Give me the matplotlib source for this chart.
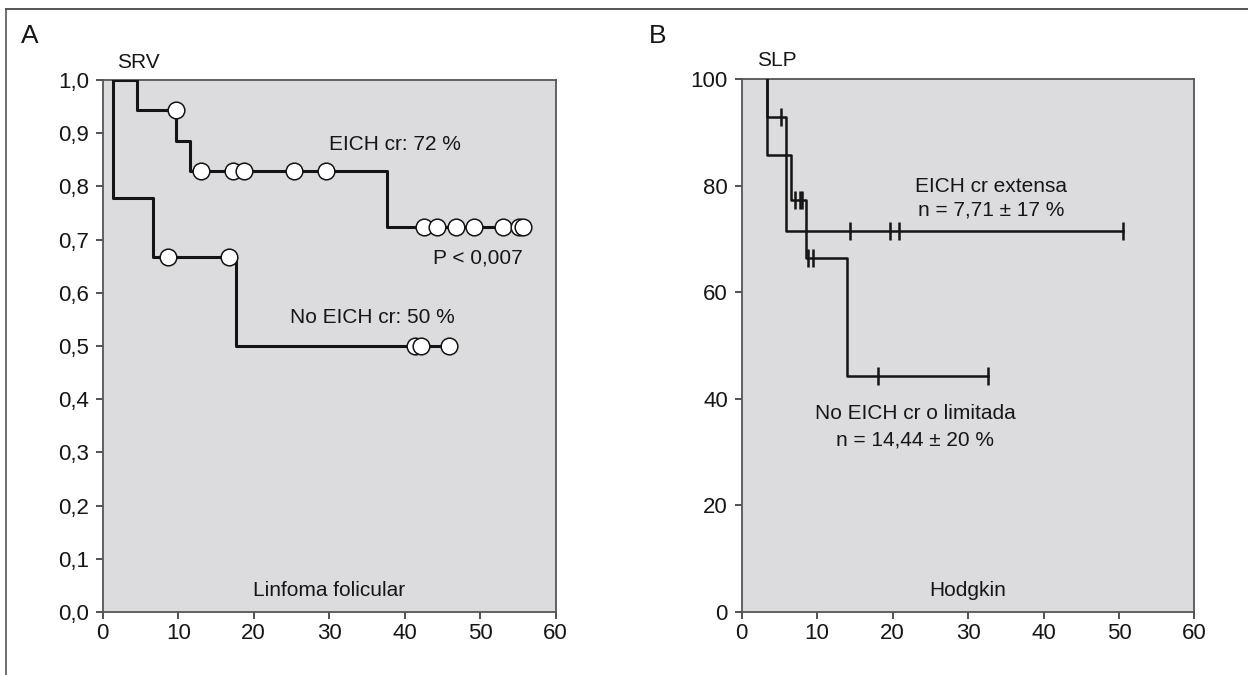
import matplotlib
matplotlib.use("Agg")
import matplotlib.pyplot as plt
from matplotlib.lines import Line2D

plt.rcParams['font.family'] = ['Liberation Sans', 'DejaVu Sans']

# Panel A: SRV, linfoma folicular
a_yes_t = [1.4, 4.6, 9.65, 11.5, 37.7, 55.7]
a_yes_s = [1.0, 0.944, 0.886, 0.828, 0.724, 0.724]
a_yes_cens = {0.944: [9.65],
              0.828: [13.0, 17.2, 18.7, 25.3, 29.6],
              0.724: [42.6, 44.3, 46.8, 49.2, 53.0, 55.2, 55.7]}
a_no_t = [1.4, 1.4, 6.7, 17.6, 45.9]
a_no_s = [1.0, 0.778, 0.667, 0.5, 0.5]
a_no_cens = {0.667: [8.6, 16.7],
             0.5: [41.3, 42.2, 45.9]}
a_yticks = [0.0, 0.1, 0.2, 0.3, 0.4, 0.5, 0.6, 0.7, 0.8, 0.9, 1.0]
a_ylabels = ["0,0", "0,1", "0,2", "0,3", "0,4", "0,5", "0,6", "0,7", "0,8", "0,9", "1,0"]

# Panel B: SLP, Hodgkin
b_ext_t = [3.3, 3.3, 5.9, 50.5]
b_ext_s = [100, 85.7, 71.4, 71.4]
b_ext_cens = {71.4: [14.4, 19.6, 20.9, 50.5]}
b_lim_t = [3.3, 3.3, 5.9, 6.6, 8.5, 13.9, 32.7]
b_lim_s = [100, 92.9, 85.7, 77.3, 66.3, 44.2, 44.2]
b_lim_cens = {92.9: [5.2],
              77.3: [7.1, 7.7, 7.96],
              66.3: [8.83, 9.42],
              44.2: [18.1, 32.7]}
b_yticks = [0, 20, 40, 60, 80, 100]

xticks = [0, 10, 20, 30, 40, 50, 60]

BG = '#dcdcdf'
SPINE = '#555555'
INK = '#161616'
FS = 15

fig = plt.figure(figsize=(12.48, 6.75), dpi=100)
axA = fig.add_axes([0.0823, 0.0933, 0.3630, 0.7882])
axB = fig.add_axes([0.5943, 0.0938, 0.3628, 0.7892])

for ax in (axA, axB):
    ax.set_facecolor(BG)
    for sp in ax.spines.values():
        sp.set_color(SPINE)
        sp.set_linewidth(1.3)
    ax.set_xlim(0, 60)
    ax.set_xticks(xticks)
    ax.tick_params(direction='out', length=5, width=1.2, color='#333333',
                   labelsize=16, labelcolor=INK)
    ax.tick_params(axis='y', pad=5)
    ax.tick_params(axis='x', pad=3)

# panel A
axA.set_ylim(0, 1.0)
axA.set_yticks(a_yticks)
axA.set_yticklabels(a_ylabels)
axA.step(a_yes_t, a_yes_s, where='post', color='#141414', lw=2.2, zorder=3)
axA.step(a_no_t, a_no_s, where='post', color='#141414', lw=2.2, zorder=3)
for cens in (a_yes_cens, a_no_cens):
    for lev, ts in cens.items():
        axA.plot(ts, [lev] * len(ts), 'o', ms=12, mfc='white', mec='#141414',
                 mew=1.1, zorder=4, clip_on=False)

axA.text(38.65, 0.868, "EICH cr: 72 %", ha='center', va='baseline', fontsize=FS, color=INK)
axA.text(49.7, 0.656, "P < 0,007", ha='center', va='baseline', fontsize=FS, color=INK)
axA.text(46.65, 0.543, "No EICH cr: 50 %", ha='right', va='baseline', fontsize=FS, color=INK)
axA.text(30, 0.030, "Linfoma folicular", ha='center', va='baseline', fontsize=FS, color=INK)
axA.text(1.9, 1.0226, "SRV", ha='left', va='baseline', fontsize=15, color=INK, clip_on=False)

# panel B
axB.set_ylim(0, 100)
axB.set_yticks(b_yticks)
axB.step(b_ext_t, b_ext_s, where='post', color='#141414', lw=1.8, zorder=3)
axB.step(b_lim_t, b_lim_s, where='post', color='#141414', lw=1.8, zorder=3)
for cens in (b_ext_cens, b_lim_cens):
    for lev, ts in cens.items():
        axB.plot(ts, [lev] * len(ts), '|', ms=13, mec='#141414', mew=1.8,
                 zorder=4, clip_on=False)

axB.text(33.0, 78.8, "EICH cr extensa", ha='center', va='baseline', fontsize=FS, color=INK)
axB.text(33.0, 74.3, "n = 7,71 \u00b1 17 %", ha='center', va='baseline', fontsize=FS, color=INK)
axB.text(23.0, 36.1, "No EICH cr o limitada", ha='center', va='baseline', fontsize=FS, color=INK)
axB.text(23.0, 31.2, "n = 14,44 \u00b1 20 %", ha='center', va='baseline', fontsize=FS, color=INK)
axB.text(30, 2.95, "Hodgkin", ha='center', va='baseline', fontsize=FS, color=INK)
axB.text(2.0, 102.5, "SLP", ha='left', va='baseline', fontsize=15, color=INK, clip_on=False)

# panel letters
fig.text(21 / 1248, 1 - 43 / 675, "A", fontsize=19, color=INK, va='baseline')
fig.text(649 / 1248, 1 - 43 / 675, "B", fontsize=19, color=INK, va='baseline')

# frame lines (top and left)
y_top = 1 - 8.5 / 675
x_left = 5.5 / 1248
fig.add_artist(Line2D([x_left, 1.0], [y_top, y_top], color='#555555', lw=1.4))
fig.add_artist(Line2D([x_left, x_left], [0, y_top], color='#555555', lw=1.2))

fig.savefig("out.png", dpi=100)
